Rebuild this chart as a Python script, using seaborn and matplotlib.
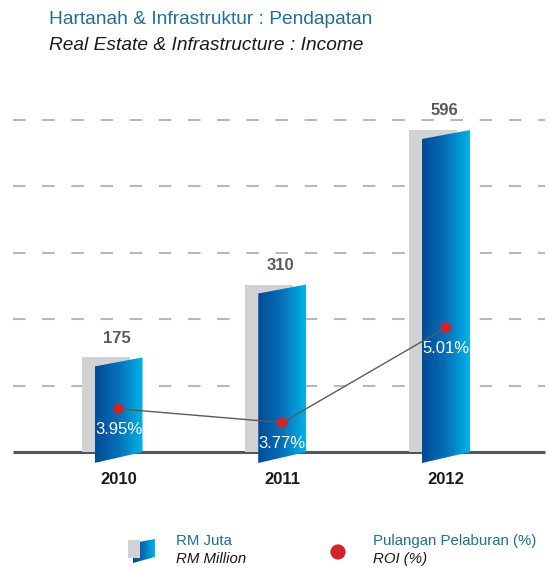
import numpy as np
import pandas as pd
import seaborn as sns
import matplotlib
matplotlib.use("Agg")
from matplotlib import pyplot as plt
from matplotlib.patches import Polygon, Rectangle
from matplotlib.colors import LinearSegmentedColormap

# data
years = ["2010", "2011", "2012"]
income = [175, 310, 596]      # RM Juta / RM Million
roi = [3.95, 3.77, 5.01]      # Pulangan Pelaburan / ROI (%)

TEAL = "#1f6f96"
GREY_BAR = "#d1d2d4"
RED = "#d2232a"
DARK = "#58595b"

W, H = 549, 568
CAT_PX = 163.75          # px between bar centres
X0_PX = 118.5            # px of the first bar centre
Y_PX = 322 / 596         # px per RM million
BASE_PX = 452            # baseline, px from top
GRID_STEP = 123


def px_x(p):
    return (p - X0_PX) / CAT_PX


sns.set_theme(style="white")
plt.rcParams["font.family"] = ["Liberation Sans", "DejaVu Sans"]

fig = plt.figure(figsize=(W / 100, H / 100), dpi=100)
ax = fig.add_axes([0, 0, 1, 1])

df = pd.DataFrame({"year": years, "income": income, "roi": roi})

bar_w = 48 / CAT_PX
shift = -13 / CAT_PX

# grey "shadow" bars
sns.barplot(data=df, x="year", y="income", color=GREY_BAR, width=bar_w,
            saturation=1, ax=ax, zorder=2)
for p in ax.patches:
    p.set_x(p.get_x() + shift)
    p.set_edgecolor("none")

# blue gradient bars, slightly skewed
cmap = LinearSegmentedColormap.from_list("blu", ["#034a97", "#0670b8", "#00b3ea"])
grad = np.linspace(0, 1, 256).reshape(1, -1)
top_drop = 9 / Y_PX
bot_drop = 11 / Y_PX
for i, v in enumerate(income):
    x0, x1 = i - bar_w / 2, i + bar_w / 2
    poly = Polygon([(x0, -bot_drop), (x1, 0), (x1, v), (x0, v - top_drop)],
                   closed=True, facecolor="none", edgecolor="none")
    ax.add_patch(poly)
    im = ax.imshow(grad, cmap=cmap, extent=[x0, x1, -bot_drop, v],
                   aspect="auto", origin="lower", zorder=3)
    im.set_clip_path(poly)
    ax.annotate(str(v), (i, v), xytext=(-2, 19), textcoords="offset pixels",
                ha="center", va="center", fontsize=12, fontweight="bold",
                color=DARK)
    ax.annotate(years[i], (i, 0), xytext=(0, -27), textcoords="offset pixels",
                ha="center", va="center", fontsize=12, fontweight="bold",
                color="#1a1a1a")

# grid + baseline
grid_y = [GRID_STEP * k for k in range(1, 6)]
ax.hlines(grid_y, px_x(13), px_x(545), colors="#b8b8b8",
          linestyles=(0, (6, 8)), lw=1.5, zorder=1)
ax.hlines(0, px_x(13), px_x(545), colors="#555555", lw=2.2, zorder=1.5)

ax.set_xlim(px_x(0), px_x(W))
ax.set_ylim(-(H - BASE_PX) / Y_PX, BASE_PX / Y_PX)
ax.set_axis_off()

# ROI line on twin axis
ax2 = ax.twinx()
sns.lineplot(data=df, x="year", y="roi", color="#5a5a5a", lw=1, ax=ax2, zorder=4)
sns.scatterplot(data=df, x="year", y="roi", color=RED, s=60, edgecolor="none",
                ax=ax2, zorder=5)
for i, r in enumerate(roi):
    ax2.annotate(f"{r:.2f}%", (i, r), xytext=(0, -21), textcoords="offset pixels",
                 ha="center", va="center", fontsize=12, color="white", zorder=6)
ax2.set_ylim(1.8717, 9.287)
ax2.set_xlim(px_x(0), px_x(W))
ax2.set_axis_off()

# titles
fig.text(49 / W, 1 - 20 / H, "Hartanah & Infrastruktur : Pendapatan",
         color=TEAL, fontsize=13.8, va="center", ha="left")
fig.text(49 / W, 1 - 45 / H, "Real Estate & Infrastructure : Income",
         color="#1a1a1a", fontsize=13.8, style="italic", va="center", ha="left")

# legend
lax = fig.add_axes([0, 0, 1, 1])
lax.patch.set_alpha(0)
lax.add_patch(Rectangle((128, 540), 12, 18, color=GREY_BAR, lw=0))
ipoly = Polygon([(133, 543), (155, 539), (155, 557), (133, 563)], closed=True,
                facecolor="none", edgecolor="none")
lax.add_patch(ipoly)
iim = lax.imshow(grad, cmap=cmap, extent=[133, 155, 563, 539], aspect="auto")
iim.set_clip_path(ipoly)
lax.scatter([338], [552], s=120, color=RED, edgecolor="none")
lax.text(176, 541, "RM Juta", color=TEAL, fontsize=10.8, va="center")
lax.text(176, 559, "RM Million", color="#1a1a1a", fontsize=10.8, style="italic", va="center")
lax.text(373, 541, "Pulangan Pelaburan (%)", color=TEAL, fontsize=10.8, va="center")
lax.text(373, 559, "ROI (%)", color="#1a1a1a", fontsize=10.8, style="italic", va="center")
lax.set_xlim(0, W)
lax.set_ylim(H, 0)
lax.set_axis_off()

fig.savefig("out.png", dpi=100)
